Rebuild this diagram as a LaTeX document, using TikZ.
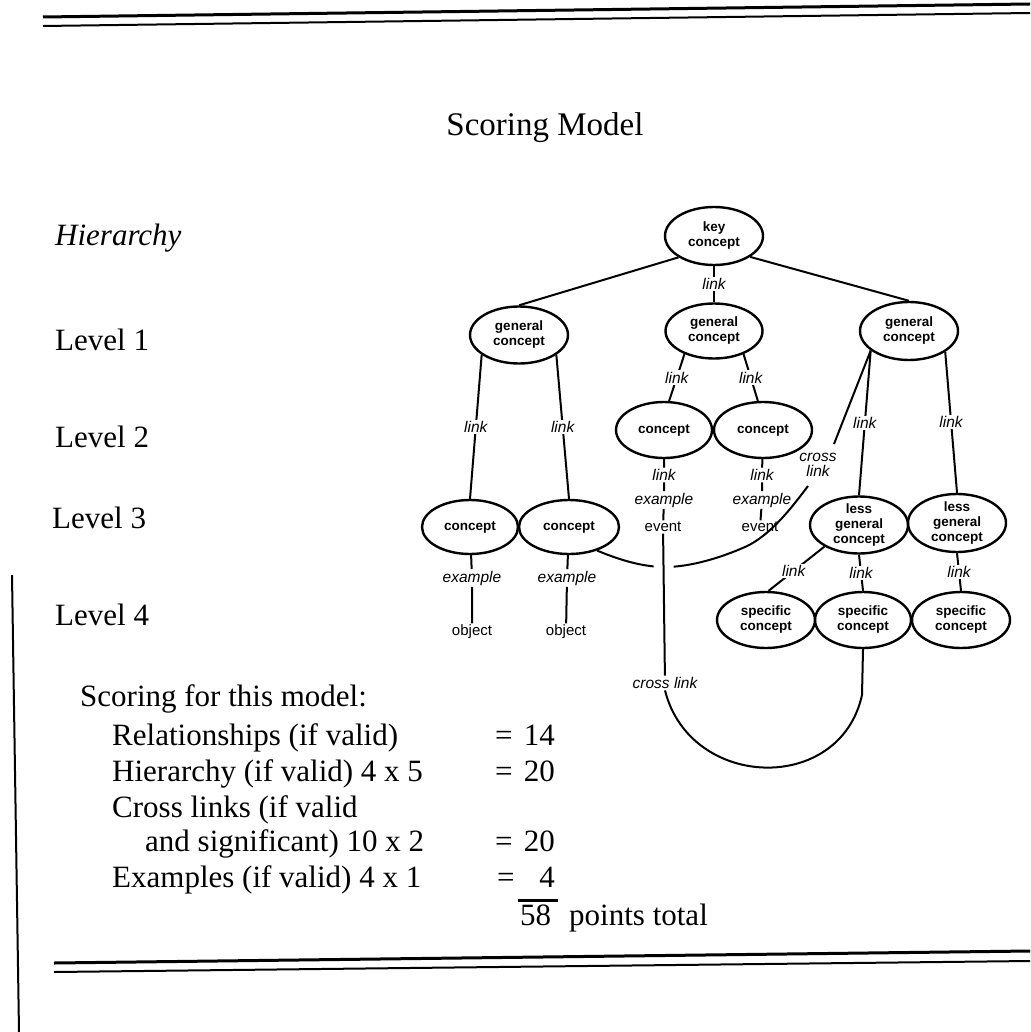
\documentclass[tikz,border=0pt]{standalone}
\usepackage{fontspec}
\setmainfont{Liberation Serif}
\setsansfont{Liberation Sans}
\usetikzlibrary{shapes.geometric}
\tikzset{
  cnode/.style={ellipse, draw, line width=2.4pt, inner sep=0pt, align=center,
    font=\sffamily\bfseries\fontsize{13.5}{15}\selectfont},
  lbl/.style={font=\sffamily\itshape\fontsize{15.5}{16}\selectfont, fill=white, inner sep=1.5pt},
  lblb/.style={font=\sffamily\itshape\fontsize{15.5}{15}\selectfont, inner sep=1pt, align=center},
  item/.style={font=\sffamily\fontsize{15}{16}\selectfont, inner sep=1.5pt},
  edge/.style={line width=2pt},
  body/.style={font=\fontsize{31}{36}\selectfont, inner sep=0pt, anchor=base west},
  rule/.style={line width=3pt},
  rulethin/.style={line width=2pt},
}
\begin{document}
\begin{tikzpicture}[x=1pt,y=-1pt]
\useasboundingbox (0,0) rectangle (1030,1032);
\fill[white] (0,0) rectangle (1030,1032);

% frame rules
\draw[rule] (43,17) -- (1030,4);
\draw[rulethin] (43,26) -- (1030,13);
\draw[rule] (54,963) -- (1030,951);
\draw[rulethin] (54,972) -- (1030,961);
\draw[rulethin] (12,575) -- (19,1032);

% title and left labels
\node[font=\fontsize{33}{38}\selectfont, inner sep=0pt, anchor=base] (title) at (545,136) {Scoring Model};
\node[body, font=\itshape\fontsize{31}{36}\selectfont] (hier) at (55,245) {Hierarchy};
\node[body] (lv1) at (55,350) {Level 1};
\node[body] (lv2) at (55,447) {Level 2};
\node[body] (lv3) at (52,528) {Level 3};
\node[body] (lv4) at (55,625) {Level 4};

% concept nodes
\node[cnode, minimum width=98pt, minimum height=58pt] (key) at (714,236) {key\\concept};
\node[cnode, minimum width=98pt, minimum height=57pt] (gc1) at (519,335) {general\\concept};
\node[cnode, minimum width=97pt, minimum height=55pt] (gc2) at (714,331) {general\\concept};
\node[cnode, minimum width=98pt, minimum height=58pt] (gc3) at (909,331) {general\\concept};
\node[cnode, minimum width=96pt, minimum height=56pt] (C) at (664,430) {concept};
\node[cnode, minimum width=98pt, minimum height=56pt] (D) at (763,430) {concept};
\node[cnode, minimum width=96pt, minimum height=54pt] (A) at (470,527) {concept};
\node[cnode, minimum width=100pt, minimum height=54pt] (B) at (569,527) {concept};
\node[cnode, inner ysep=-4pt, minimum width=98pt, minimum height=57pt] (LG1) at (859,525) {less\\general\\concept};
\node[cnode, inner ysep=-4pt, minimum width=98pt, minimum height=58pt] (LG2) at (957,523) {less\\general\\concept};
\node[cnode, minimum width=98pt, minimum height=56pt] (SC1) at (766,620) {specific\\concept};
\node[cnode, minimum width=96pt, minimum height=56pt] (SC2) at (863,620) {specific\\concept};
\node[cnode, minimum width=98pt, minimum height=56pt] (SC3) at (961,620) {specific\\concept};

% leaf items and stacked labels
\node[lbl] (lC) at (664,475) {link};
\node[lbl] (exC) at (664,500) {example};
\node[item] (ev1) at (663,527) {event};
\node[lbl] (lD) at (762,475) {link};
\node[lbl] (exD) at (762,500) {example};
\node[item] (ev2) at (760,527) {event};
\node[lbl] (exA) at (472,578) {example};
\node[item] (objA) at (472,632) {object};
\node[lbl] (exB) at (567,578) {example};
\node[item] (objB) at (566,632) {object};
\node[lblb] (cl1) at (818,465) {cross\\link};
\node[lbl, fill=none] (cl2) at (665,683) {cross link};

% hierarchy links
\draw[edge] (key.211) -- (gc1.north);
\draw[edge] (key.330) -- (gc3.north);
\draw[edge] (key) -- node[lbl]{link} (gc2);
\draw[edge] (gc1.208) -- node[lbl]{link} (A.north);
\draw[edge] (gc1.-28) -- node[lbl]{link} (B.north);
\draw[edge] (gc2.218) -- node[lbl]{link} (C.80);
\draw[edge] (gc2.-38) -- node[lbl]{link} (D.100);
\draw[edge] (gc3.207) -- node[lbl]{link} (LG1.north);
\draw[edge] (gc3.-30) -- node[lbl]{link} (LG2.north);
\draw[edge] (LG1.212) -- node[lbl, pos=0.55]{link} (SC1.85);
\draw[edge] (LG1.south) -- node[lbl]{link} (SC2.north);
\draw[edge] (LG2.south) -- node[lbl]{link} (SC3.north);
\draw[edge] (C) -- (lC) -- (exC) -- (ev1);
\draw[edge] (D) -- (lD) -- (exD) -- (ev2);
\draw[edge] (A) -- (exA) -- (objA);
\draw[edge] (B) -- (exB) -- (objB);

% cross link from general concept to concept
\coordinate (x1) at (834,444);
\coordinate (x2) at (808,486);
\draw[edge] (gc3.207) -- (x1);
\draw[edge] (x2) .. controls (795,503) and (772,535) .. (745,547)
  .. controls (720,558) and (690,567) .. (665,567)
  .. controls (640,567) and (615,558) .. (B.-40);

% cross link from event to specific concept
\draw[edge, preaction={draw=white, line width=20pt}] (ev1) -- (cl2);
\draw[edge] (cl2.south) .. controls (690,790) and (840,795) .. (862,695) -- (SC2.south);

% scoring block
\node[body] (sc0) at (80,706) {Scoring for this model:};
\node[body] (sc1) at (112,745) {Relationships (if valid)};
\node[body] (sc2) at (112,781) {Hierarchy (if valid) 4 x 5};
\node[body] (sc3) at (112,817) {Cross links (if valid};
\node[body] (sc4) at (145,851) {and significant) 10 x 2};
\node[body] (sc5) at (112,887) {Examples (if valid) 4 x 1};
\node[body] (eq1) at (495,745) {=};
\node[body] (eq2) at (495,781) {=};
\node[body] (eq4) at (495,851) {=};
\node[body] (eq5) at (497,887) {=};
\node[body, anchor=base east] (n1) at (555,745) {14};
\node[body, anchor=base east] (n2) at (555,781) {20};
\node[body, anchor=base east] (n4) at (555,851) {20};
\node[body, anchor=base east] (n5) at (555,887) {4};
\draw[rule] (518,900) -- (558,900);
\node[body] (tot) at (520,925) {58};
\node[body] (totl) at (569,925) {points total};
\end{tikzpicture}
\end{document}
